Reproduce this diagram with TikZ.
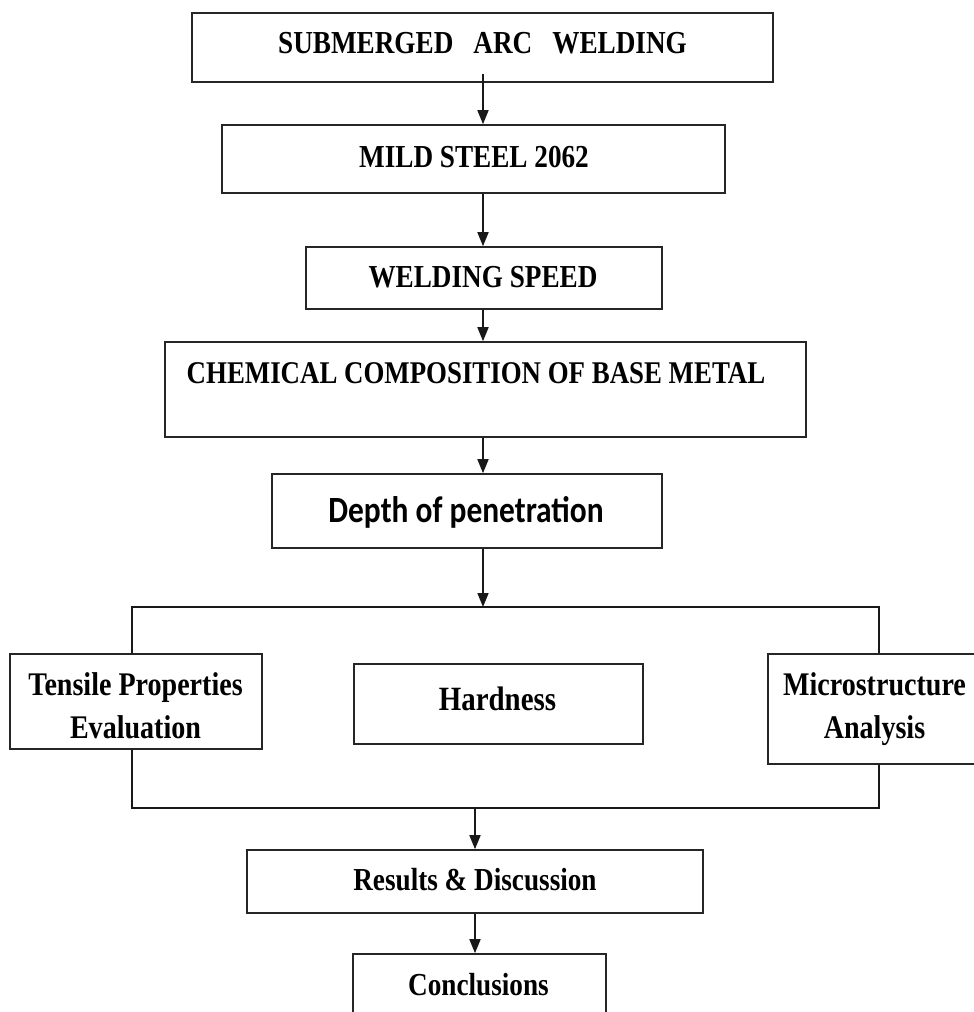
\documentclass[tikz,border=0pt]{standalone}
\usepackage{fontspec}
\newfontfamily\tnr{Liberation Serif}[FakeStretch=0.85]
\newfontfamily\calib{Carlito}[FakeStretch=0.85]
\usetikzlibrary{arrows.meta,calc}
\begin{document}
\begin{tikzpicture}[x=1pt,y=-1pt,
  box/.style={draw=black!85, line width=1.6pt, fill=white, inner sep=0pt},
  lbl/.style={inner sep=0pt, anchor=base, align=center, font=\tnr\bfseries\fontsize{32}{43}\selectfont},
  conn/.style={draw=black!90, line width=1.7pt},
  arr/.style={conn, -{Triangle[length=14pt,width=11pt]}}
]
\useasboundingbox (0,0) rectangle (974,1012);
\fill[white] (0,0) rectangle (974,1012);
\clip (0,0) rectangle (974,1012);

% boxes
\node[box, minimum width=581pt, minimum height=69pt] (b1) at (482.5,47.5) {};
\node[box, minimum width=503pt, minimum height=68pt] (b2) at (473.5,159) {};
\node[box, minimum width=356pt, minimum height=62pt] (b3) at (484,278) {};
\node[box, minimum width=641pt, minimum height=95pt] (b4) at (485.5,389.5) {};
\node[box, minimum width=390pt, minimum height=74pt] (b5) at (467,511) {};
\node[box, minimum width=252pt, minimum height=95pt] (tens) at (136,701.5) {};
\node[box, minimum width=289pt, minimum height=80pt] (hard) at (498.5,704) {};
\node[box, minimum width=212pt, minimum height=110pt] (micro) at (874,709) {};
\node[box, minimum width=456pt, minimum height=63pt] (res) at (475,881.5) {};
\node[box, minimum width=253pt, minimum height=86pt] (conc) at (479.5,997) {};

% labels
\node[lbl] (t1) at (482.5,53) {SUBMERGED\hspace{20pt}ARC\hspace{20pt}WELDING};
\node[lbl] (t2) at (474,167) {MILD STEEL 2062};
\node[lbl] (t3) at (483,287) {WELDING SPEED};
\node[lbl, font=\tnr\bfseries\fontsize{31.6}{40}\selectfont] (t4) at (476,383) {CHEMICAL COMPOSITION OF BASE METAL};
\node[lbl, font=\calib\bfseries\fontsize{37}{44}\selectfont] (t5) at (466,522) {Depth of penetration};
\node[lbl, font=\tnr\bfseries\fontsize{33}{43}\selectfont] (t6) at (135.5,738) {Tensile Properties\\Evaluation};
\node[lbl, font=\tnr\bfseries\fontsize{34}{43}\selectfont] (t7) at (497.5,710) {Hardness};
\node[lbl, font=\tnr\bfseries\fontsize{33}{43}\selectfont] (t8) at (874.5,738) {Microstructure\\Analysis};
\node[lbl] (t9) at (475,890) {Results \& Discussion};
\node[lbl] (t10) at (478.5,995) {Conclusions};

% junction coordinates
\coordinate (ax) at (483,0);
\coordinate (jt) at (483,607);
\coordinate (jl) at (132,607);
\coordinate (jr) at (879,607);
\coordinate (jbl) at (132,808);
\coordinate (jbr) at (879,808);
\coordinate (jb) at (475,808);

% connectors
\draw[arr] ([yshift=9pt]ax |- b1.south) -- (ax |- b2.north);
\draw[arr] (ax |- b2.south) -- (ax |- b3.north);
\draw[arr] (ax |- b3.south) -- (ax |- b4.north);
\draw[arr] (ax |- b4.south) -- (ax |- b5.north);
\draw[arr] (jt |- b5.south) -- (jt);
\draw[conn] (jl |- tens.north) -- (jl) -- (jr) -- (jr |- micro.north);
\draw[conn] (jbl |- tens.south) -- (jbl) -- (jbr) -- (jbr |- micro.south);
\draw[arr] (jb) -- (jb |- res.north);
\draw[arr] (jb |- res.south) -- (jb |- conc.north);
\end{tikzpicture}
\end{document}
